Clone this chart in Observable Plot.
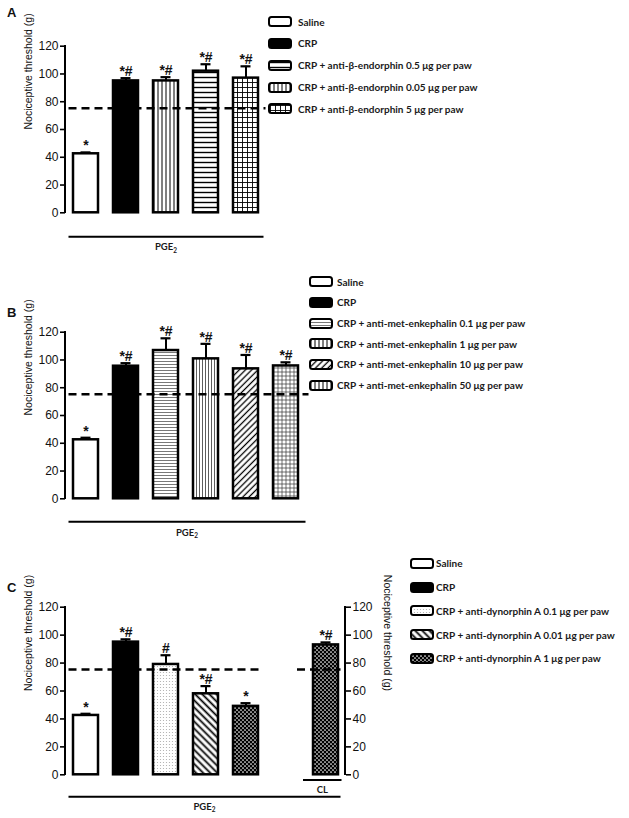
<!DOCTYPE html>
<html><head><meta charset="utf-8">
<script src="https://cdn.jsdelivr.net/npm/d3@7"></script>
<script src="https://cdn.jsdelivr.net/npm/@observablehq/plot@0.6"></script>
<style>
body{margin:0;background:#fff;}
#root{position:relative;width:629px;height:818px;overflow:hidden;font-family:"Liberation Sans",Arial,sans-serif;}
.panel{position:absolute;left:0;}
.plabel{position:absolute;font-family:"Liberation Sans",Arial,sans-serif;font-weight:bold;font-size:13px;color:#111;}
.legend{position:absolute;font-family:Lato,"Open Sans",sans-serif;font-weight:bold;font-size:10px;color:#1a1a1a;}
.legend .row{position:absolute;left:0;white-space:nowrap;height:11px;display:flex;align-items:center;}
.legend svg{display:block;flex:none;}
</style></head><body>
<svg width="0" height="0" style="position:absolute">
<defs>
<pattern id="p-vlines" width="4" height="4" patternUnits="userSpaceOnUse"><rect width="4" height="4" fill="white"/><line x1="2" y1="0" x2="2" y2="4" stroke="black" stroke-width="1"/></pattern>
<pattern id="p-hlines" width="5" height="5" patternUnits="userSpaceOnUse"><rect width="5" height="5" fill="white"/><line x1="0" y1="2.5" x2="5" y2="2.5" stroke="black" stroke-width="1.4"/></pattern>
<pattern id="p-grid" width="5" height="5" patternUnits="userSpaceOnUse"><rect width="5" height="5" fill="white"/><path d="M2.5 0V5M0 2.5H5" stroke="black" stroke-width="0.9"/></pattern>
<pattern id="p-hgray" width="3" height="3" patternUnits="userSpaceOnUse"><rect width="3" height="3" fill="white"/><line x1="0" y1="1.5" x2="3" y2="1.5" stroke="#555" stroke-width="0.8"/></pattern>
<pattern id="p-vthin" width="3" height="3" patternUnits="userSpaceOnUse"><rect width="3" height="3" fill="white"/><line x1="1.5" y1="0" x2="1.5" y2="3" stroke="#333" stroke-width="0.8"/></pattern>
<pattern id="p-diagR" width="4.4" height="4.4" patternUnits="userSpaceOnUse" patternTransform="rotate(45)"><rect width="4.4" height="4.4" fill="white"/><line x1="2.2" y1="0" x2="2.2" y2="4.4" stroke="black" stroke-width="1.3"/></pattern>
<pattern id="p-grid4" width="4" height="4" patternUnits="userSpaceOnUse"><rect width="4" height="4" fill="white"/><path d="M2 0V4M0 2H4" stroke="#333" stroke-width="0.7"/></pattern>
<pattern id="p-dots" width="3" height="3" patternUnits="userSpaceOnUse"><rect width="3" height="3" fill="white"/><circle cx="1.5" cy="1.5" r="0.6" fill="#aaa"/></pattern>
<pattern id="p-diagL" width="5" height="5" patternUnits="userSpaceOnUse" patternTransform="rotate(-45)"><rect width="5" height="5" fill="white"/><line x1="2.5" y1="0" x2="2.5" y2="5" stroke="black" stroke-width="1.8"/></pattern>
<pattern id="p-checker" width="4" height="4" patternUnits="userSpaceOnUse"><rect width="4" height="4" fill="black"/><circle cx="1" cy="1" r="0.85" fill="white"/><circle cx="3" cy="3" r="0.85" fill="white"/></pattern>
</defs></svg>
<div id="root"></div>
<script>
// ---------- data ----------
const yTicks = [0, 20, 40, 60, 80, 100, 120];
const threshold = 75;
const yTitle = "Nociceptive threshold (g)";

// Panel A
const barsA = ["Saline", "CRP", "β-end 0.5", "β-end 0.05", "β-end 5"];
const meansA = [42.5, 95, 95, 102, 97];
const semA = [1, 2, 2.7, 5, 8.5];
const sigA = ["*", "*#", "*#", "*#", "*#"];
const legendA = ["Saline", "CRP", "CRP + anti-β-endorphin 0.5 μg per paw", "CRP + anti-β-endorphin 0.05 μg per paw", "CRP + anti-β-endorphin 5 μg per paw"];

// Panel B
const barsB = ["Saline", "CRP", "met-enk 0.1", "met-enk 1", "met-enk 10", "met-enk 50"];
const meansB = [42.5, 95.5, 106.8, 100.8, 93.6, 95.7];
const semB = [1.5, 2.2, 8.8, 10.8, 10, 2.6];
const sigB = ["*", "*#", "*#", "*#", "*#", "*#"];
const legendB = ["Saline", "CRP", "CRP + anti-met-enkephalin 0.1 μg per paw", "CRP + anti-met-enkephalin 1 μg per paw", "CRP + anti-met-enkephalin 10 μg per paw", "CRP + anti-met-enkephalin 50 μg per paw"];

// Panel C
const barsC = ["Saline", "CRP", "dyn 0.1", "dyn 0.01", "dyn 1", "CL"];
const slotsC = ["Saline", "CRP", "dyn 0.1", "dyn 0.01", "dyn 1", " ", "CL"];
const meansC = [42.5, 95, 79, 58, 49, 93];
const semC = [1.2, 2, 6.6, 5.5, 2.3, 1.8];
const sigC = ["*", "*#", "#", "*#", "*", "*#"];
const legendC = ["Saline", "CRP", "CRP + anti-dynorphin A 0.1 μg per paw", "CRP + anti-dynorphin A 0.01 μg per paw", "CRP + anti-dynorphin A 1 μg per paw"];
const groupLabel = "PGE";
const clLabel = "CL";

// ---------- styles ----------
const fillsA = ["white", "black", "vlines", "hlines", "grid"];
const legFillsA = ["white", "black", "hlines", "vlines", "grid"];
const fillsB = ["white", "black", "hgray", "vthin", "diagR", "grid4"];
const legFillsB = ["white", "black", "hgray", "vlines", "diagR", "vlines"];
const fillsC = ["white", "black", "dots", "diagL", "checker", "checker"];
const legFillsC = ["white", "black", "dots", "diagL", "checker"];

const STEP = 40, ML = 65, W = 629;
const fillUrl = p => (p === "white" || p === "black") ? p : `url(#p-${p})`;

function decorations(cfg) {
  return (index, scales, values, dim) => {
    const {x, y} = scales;
    const bw = x.bandwidth();
    const g = d3.create("svg:g").attr("fill", "none").attr("stroke", "black");
    const xl = dim.marginLeft, xr = dim.width - dim.marginRight;
    const y0 = y(0), yT = y(120);
    g.append("line").attr("x1", xl).attr("x2", xl).attr("y1", y0 + 0.75).attr("y2", yT - 0.75).attr("stroke-width", 2);
    if (cfg.rightAxis) g.append("line").attr("x1", xr).attr("x2", xr).attr("y1", y0 + 0.75).attr("y2", yT - 0.75).attr("stroke-width", 2);
    for (const s of cfg.dashes) {
      g.append("line").attr("x1", x(s.from) + s.dx1).attr("x2", x(s.to) + bw + s.dx2)
        .attr("y1", y(threshold)).attr("y2", y(threshold))
        .attr("stroke-width", 2.5).attr("stroke-dasharray", "8,5");
    }
    for (const b of cfg.brackets) {
      const x1 = x(b.from) + b.dx1, x2 = x(b.to) + bw + b.dx2, yy = y0 + b.dy;
      g.append("line").attr("x1", x1).attr("x2", x2).attr("y1", yy).attr("y2", yy).attr("stroke-width", 2);
      const t = g.append("text").attr("x", (x1 + x2) / 2).attr("y", yy + b.ty)
        .attr("text-anchor", "middle").attr("fill", "#1a1a1a").attr("stroke", "none")
        .attr("font-family", "Lato, 'Open Sans', sans-serif").attr("font-weight", "bold").attr("font-size", 9.5)
        .text(b.text);
      if (b.sub) t.append("tspan").attr("font-size", 6.5).attr("dy", 2.5).text(b.sub);
    }
    return g.node();
  };
}

function makePanel(cfg) {
  const data = cfg.cats.map((c, i) => ({c, m: cfg.means[i], e: cfg.sems[i], s: cfg.sigs[i]}));
  const n = cfg.domain.length;
  const right = ML + STEP * n;
  const marks = [
    Plot.ruleX(data, {x: "c", y1: "m", y2: d => d.m + d.e, stroke: "black", strokeWidth: 2}),
    Plot.tickY(data, {x: "c", y: d => d.m + d.e, stroke: "black", strokeWidth: 2.2, insetLeft: 8.5, insetRight: 8.5}),
    ...data.map((d, i) => Plot.barY([d], {x: "c", y: "m", fill: fillUrl(cfg.fills[i]), stroke: "black", strokeWidth: 2.5, insetLeft: 1, insetRight: 1})),
    Plot.text(data, {x: "c", y: d => d.m + d.e, text: "s", dy: -2, lineAnchor: "bottom", fontSize: 14, fontWeight: "bold", fill: "#111"}),
    decorations(cfg),
    Plot.axisY(yTicks, {anchor: "left", tickSize: 5, tickPadding: 2, fontSize: 12, strokeWidth: 1.6, label: null, fill: "#111"}),
    Plot.text([yTitle], {frameAnchor: "left", text: d => d, rotate: -90, dx: -37, fontSize: 10.5, fill: "#111"})
  ];
  if (cfg.rightAxis) {
    marks.push(Plot.axisY(yTicks, {anchor: "right", tickSize: 5, tickPadding: 2, fontSize: 12, strokeWidth: 1.6, label: null, fill: "#111"}));
    marks.push(Plot.text([yTitle], {frameAnchor: "right", text: d => d, rotate: 90, dx: 42, fontSize: 10.5, fill: "#111"}));
  }
  const svg = Plot.plot({
    width: W, height: cfg.height,
    marginLeft: ML, marginRight: W - right,
    marginTop: cfg.mTop, marginBottom: cfg.height - cfg.mTop - cfg.frameH,
    x: {type: "band", domain: cfg.domain, paddingInner: 0.325, paddingOuter: 0.1625, axis: null},
    y: {domain: [0, 120], axis: null},
    style: {fontFamily: '"Liberation Sans", Arial, sans-serif', background: "transparent", overflow: "visible"},
    marks
  });
  svg.classList.add("panel");
  svg.style.position = "absolute";
  svg.style.top = cfg.top + "px";
  svg.style.left = "0px";
  document.getElementById("root").appendChild(svg);
}

function legend(items, fills, left, top, gap, textGap) {
  const div = d3.select("#root").append("div").attr("class", "legend")
    .style("left", left + "px").style("top", top + "px");
  items.forEach((t, i) => {
    const row = div.append("div").attr("class", "row").style("top", (i * gap - 5.5) + "px");
    const s = row.append("svg").attr("width", 24).attr("height", 11).style("margin-right", textGap + "px");
    s.append("rect").attr("x", 1).attr("y", 1).attr("width", 22).attr("height", 9).attr("rx", 2.5)
      .attr("fill", fillUrl(fills[i])).attr("stroke", "black").attr("stroke-width", 2);
    row.append("span").text(t);
  });
}

function panelLabel(t, left, top) {
  d3.select("#root").append("div").attr("class", "plabel").style("left", left + "px").style("top", top + "px").text(t);
}

makePanel({
  cats: barsA, domain: barsA, means: meansA, sems: semA, sigs: sigA, fills: fillsA,
  top: 0, height: 270, mTop: 45.7, frameH: 166.6,
  dashes: [{from: barsA[0], dx1: -3.5, to: barsA[4], dx2: 6.5}],
  brackets: [{from: barsA[0], dx1: -3.5, to: barsA[4], dx2: 4.5, dy: 24.4, ty: 13.5, text: groupLabel, sub: "2"}]
});
makePanel({
  cats: barsB, domain: barsB, means: meansB, sems: semB, sigs: sigB, fills: fillsB,
  top: 270, height: 275, mTop: 61.7, frameH: 166.6,
  dashes: [{from: barsB[0], dx1: -3.5, to: barsB[5], dx2: 9.5}],
  brackets: [{from: barsB[0], dx1: -3.5, to: barsB[5], dx2: 6.5, dy: 23.4, ty: 14, text: groupLabel, sub: "2"}]
});
makePanel({
  cats: barsC, domain: slotsC, means: meansC, sems: semC, sigs: sigC, fills: fillsC,
  top: 545, height: 273, mTop: 61.7, frameH: 167.6, rightAxis: true,
  dashes: [{from: barsC[0], dx1: -3.5, to: barsC[4], dx2: 4.5}, {from: "CL", dx1: -15, to: "CL", dx2: 1.5}],
  brackets: [
    {from: "CL", dx1: -9, to: "CL", dx2: 2.5, dy: 5.7, ty: 13, text: clLabel},
    {from: barsC[0], dx1: -3.5, to: "CL", dx2: 1.5, dy: 22.4, ty: 13, text: groupLabel, sub: "2"}
  ]
});

legend(legendA, legFillsA, 268, 21.7, 21.8, 6);
legend(legendB, legFillsB, 309, 281.7, 20.7, 4);
legend(legendC, legFillsC, 410, 563.3, 23.75, 2);

panelLabel("A", 7, 5);
panelLabel("B", 7, 305);
panelLabel("C", 7, 580);
</script>
</body></html>
